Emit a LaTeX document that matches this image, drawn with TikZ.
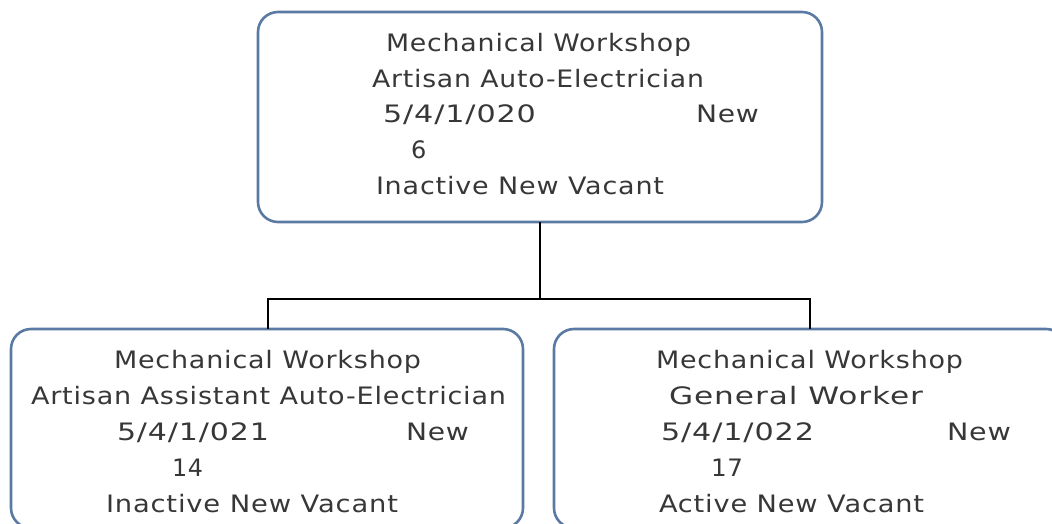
\documentclass[tikz,border=0pt]{standalone}
\usepackage{fontspec}
\usepackage{graphicx}
\setmainfont{DejaVu Sans}[LetterSpace=3]
\definecolor{boxblue}{RGB}{91,122,163}
\definecolor{txtgray}{RGB}{55,55,55}
\newcommand{\fitw}[2]{\resizebox{#1pt}{\height}{#2}}
\begin{document}
\begin{tikzpicture}[x=1pt,y=-1pt,
  posbox/.style={draw=boxblue, line width=2.6pt, rounded corners=20pt, rectangle},
  txt/.style={inner sep=0pt, outer sep=0pt, text=txtgray, anchor=base west, font=\fontsize{24}{28}\selectfont},
  conn/.style={draw=black, line width=2.6pt}]
\useasboundingbox (0,0) rectangle (1052,524);
\clip (0,0) rectangle (1052,524);
% boxes
\draw[posbox] (258,12) rectangle (822,222);
\coordinate (topbot) at (540,222);
\draw[posbox] (11,329) rectangle (523,528);
\coordinate (leftop) at (268,329);
\draw[posbox] (554,329) rectangle (1066,528);
\coordinate (rightop) at (810,329);
% connectors
\coordinate (junc) at (540,299);
\draw[conn] (topbot) -- (junc);
\draw[conn] (leftop) |- (junc) -| (rightop);
% top texts
\node[txt] (t1) at (386,52) {\fitw{305}{Mechanical Workshop}};
\node[txt] (t2) at (372,87.5) {\fitw{332}{Artisan Auto-Electrician}};
\node[txt] (t3) at (383,123) {\fitw{153}{5/4/1/020}};
\node[txt] (t3b) at (696,123) {\fitw{63}{New}};
\node[txt] (t4) at (411,158.5) {6};
\node[txt] (t5) at (376,194) {\fitw{288}{Inactive New Vacant}};
% left texts
\node[txt] (l1) at (114,368) {\fitw{307}{Mechanical Workshop}};
\node[txt] (l2) at (31,404) {\fitw{475}{Artisan Assistant Auto-Electrician}};
\node[txt] (l3) at (117,440) {\fitw{152}{5/4/1/021}};
\node[txt] (l3b) at (406,440) {\fitw{63}{New}};
\node[txt] (l4) at (172,476) {\fitw{31}{14}};
\node[txt] (l5) at (106,512) {\fitw{292}{Inactive New Vacant}};
% right texts
\node[txt] (r1) at (656,368) {\fitw{307}{Mechanical Workshop}};
\node[txt] (r2) at (669,404) {\fitw{254}{General Worker}};
\node[txt] (r3) at (661,440) {\fitw{153}{5/4/1/022}};
\node[txt] (r3b) at (947,440) {\fitw{64}{New}};
\node[txt] (r4) at (711,476) {\fitw{32}{17}};
\node[txt] (r5) at (659,512) {\fitw{265}{Active New Vacant}};
\end{tikzpicture}
\end{document}
